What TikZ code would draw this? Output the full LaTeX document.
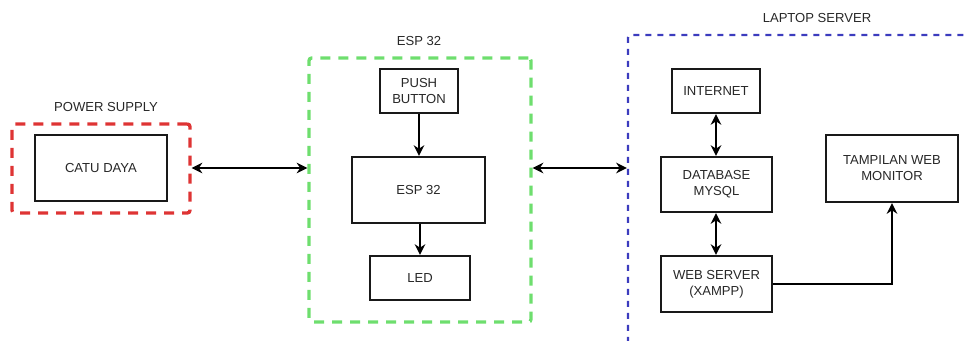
\documentclass[tikz,border=0pt]{standalone}
\usepackage{fontspec}
\setmainfont{Liberation Sans}
\usetikzlibrary{arrows.meta}
\definecolor{psred}{RGB}{222,52,52}
\definecolor{espgreen}{RGB}{110,222,110}
\definecolor{lapblue}{RGB}{60,60,190}
\definecolor{txt}{RGB}{40,40,40}
\tikzset{
  blk/.style={draw=black!90, line width=1.7pt, fill=white, inner sep=0pt, align=center,
    font=\fontsize{9.8pt}{12pt}\selectfont, text=txt},
  grp/.style={line width=2.5pt, dash pattern=on 7.5pt off 6pt, rounded corners=2pt, inner sep=0pt},
  ttl/.style={font=\fontsize{9.8pt}{12pt}\selectfont, text=txt, inner sep=0pt},
  conn/.style={line width=1.6pt, black, -{Stealth[length=8pt,width=8pt]}},
  bconn/.style={line width=1.6pt, black, {Stealth[length=8pt,width=8pt]}-{Stealth[length=8pt,width=8pt]}}
}
\begin{document}
\begin{tikzpicture}[x=0.75pt,y=-0.75pt]
\useasboundingbox (0,0) rectangle (969,340);
% groups
\node[grp, draw=psred, minimum width=133.5pt, minimum height=66.75pt] (psg) at (101,168.5) {};
\node[grp, draw=espgreen, minimum width=166.5pt, minimum height=198pt] (espg) at (420,190) {};
\node[grp, draw=lapblue, line width=1.8pt, dash pattern=on 4.5pt off 4.5pt, minimum width=262.5pt, minimum height=232.5pt] (lapg) at (803,190) {};
% group titles
\node[ttl] (pst) at (106,107) {POWER SUPPLY};
\node[ttl] (espt) at (419,41) {ESP 32};
\node[ttl] (lapt) at (817,18) {LAPTOP SERVER};
% blocks
\node[blk, minimum width=99pt, minimum height=49.5pt] (catu) at (101,168) {CATU DAYA};
\node[blk, minimum width=58.5pt, minimum height=33pt] (push) at (419,91) {PUSH\\BUTTON};
\node[blk, minimum width=99.75pt, minimum height=49.5pt] (esp) at (418.5,190) {ESP 32};
\node[blk, minimum width=75pt, minimum height=33pt] (led) at (420,278) {LED};
\node[blk, minimum width=66pt, minimum height=33pt] (inet) at (716,91) {INTERNET};
\node[blk, minimum width=83.25pt, minimum height=41.25pt] (db) at (716.5,184.5) {DATABASE\\MYSQL};
\node[blk, minimum width=83.25pt, minimum height=42pt] (web) at (716.5,284) {WEB SERVER\\(XAMPP)};
\node[blk, minimum width=99pt, minimum height=50.25pt] (tamp) at (892,168.5) {TAMPILAN WEB\\MONITOR};
% connectors
\draw[bconn] (psg.east |- catu.east) -- (espg.west |- catu.east);
\draw[bconn] (espg.east |- catu.east) -- (lapg.west |- catu.east);
\draw[conn] (push.south) -- (push.south |- esp.north);
\draw[conn] (esp.south -| led.north) -- (led.north);
\draw[bconn] (inet.south) -- (inet.south |- db.north);
\draw[bconn] (inet.south |- db.south) -- (inet.south |- web.north);
\draw[conn] (web.east) -| (tamp.south);
\end{tikzpicture}
\end{document}
